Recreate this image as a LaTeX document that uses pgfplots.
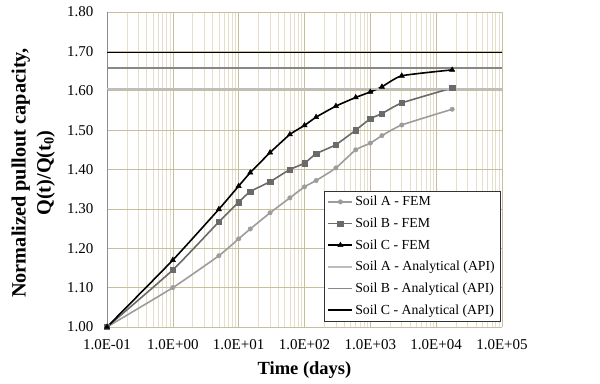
\documentclass[border=0pt]{standalone}
\usepackage{pgfplots}
\pgfplotsset{compat=1.18}
\usepackage{fontspec}
\setmainfont{Liberation Serif}
\definecolor{gridmaj}{HTML}{C6BE9C}
\definecolor{gridmin}{HTML}{E4DECA}
\definecolor{soilA}{HTML}{9C9C9C}
\definecolor{soilB}{HTML}{6A6A6A}
\definecolor{soilAan}{HTML}{BDBDBD}
\definecolor{soilBan}{HTML}{878787}
\definecolor{yaxis}{HTML}{8C8C8C}
\begin{document}
\begin{tikzpicture}
\begin{axis}[
  scale only axis, width=395pt, height=315pt,
  xmode=log, xmin=0.1, xmax=1e5, ymin=1.0, ymax=1.8,
  xtick={0.1,1,10,100,1000,10000,100000},
  xticklabels={1.0E-01,1.0E+00,1.0E+01,1.0E+02,1.0E+03,1.0E+04,1.0E+05},
  ytick={1.0,1.1,1.2,1.3,1.4,1.5,1.6,1.7,1.8},
  yticklabel style={/pgf/number format/fixed, /pgf/number format/fixed zerofill, /pgf/number format/precision=2, /pgf/number format/assume math mode=true, xshift=-10pt},
  grid=both,
  major grid style={draw=gridmaj, line width=0.6pt},
  minor grid style={draw=gridmin, line width=0.5pt},
  major tick length=0pt, minor tick length=0pt,
  axis x line*=bottom, axis y line*=left,
  x axis line style={draw=gridmaj, -},
  y axis line style={draw=yaxis, line width=0.8pt, -},
  tick label style={font=\fontsize{15}{17}\selectfont},
  xticklabel style={yshift=-9pt},
  xlabel={Time (days)},
  ylabel={Normalized pullout capacity,\\Q(t)/Q(t\textsubscript{0})},
  xlabel style={font=\fontsize{18.5}{22}\selectfont\bfseries, at={(axis description cs:0.5,-0.137)}, anchor=center},
  ylabel style={font=\fontsize{20.3}{25}\selectfont\bfseries, at={(axis description cs:-0.187,0.489)}, anchor=center, align=center},
  legend style={at={(rel axis cs:0.995,0.019)}, anchor=south east, draw=black!80, fill=white,
    font=\fontsize{13.8}{15}\selectfont, row sep=6.6pt, inner sep=3pt},
  legend cell align=left,
  legend image code/.code={\draw[mark repeat=2,mark phase=2,#1] plot coordinates {(0pt,0pt) (12pt,0pt) (24pt,0pt)};},
]
\addplot[soilA, line width=1.6pt, smooth, tension=0.3, mark=*, mark size=2.2pt, mark options={fill=soilA, draw=soilA, line width=0.5pt}] coordinates {
(0.1,1.0)(1,1.100)(5,1.181)(10,1.224)(15,1.249)(30,1.290)(60,1.328)(100,1.356)(150,1.372)(300,1.404)(600,1.450)(1000,1.467)(1500,1.486)(3000,1.513)(17500,1.553)};
\addlegendentry{Soil A - FEM}
\addplot[soilB, line width=1.6pt, smooth, tension=0.3, mark=square*, mark size=2.7pt, mark options={fill=soilB, draw=soilB, line width=0.5pt}] coordinates {
(0.1,1.0)(1,1.145)(5,1.267)(10,1.317)(15,1.344)(30,1.369)(60,1.400)(100,1.416)(150,1.440)(300,1.463)(600,1.500)(1000,1.529)(1500,1.542)(3000,1.569)(17500,1.607)};
\addlegendentry{Soil B - FEM}
\addplot[black, line width=1.6pt, smooth, tension=0.3, mark=triangle*, mark size=3pt, mark options={fill=black, draw=black, line width=0.5pt}] coordinates {
(0.1,1.0)(1,1.170)(5,1.299)(10,1.358)(15,1.392)(30,1.443)(60,1.489)(100,1.512)(150,1.533)(300,1.561)(600,1.583)(1000,1.597)(1500,1.610)(3000,1.638)(17500,1.653)};
\addlegendentry{Soil C - FEM}
\addplot[soilAan, line width=1.8pt] coordinates {(0.1,1.605)(100000,1.605)};
\addlegendentry{Soil A - Analytical (API)}
\addplot[soilBan, line width=1.8pt] coordinates {(0.1,1.658)(100000,1.658)};
\addlegendentry{Soil B - Analytical (API)}
\addplot[black, line width=1.8pt] coordinates {(0.1,1.697)(100000,1.697)};
\addlegendentry{Soil C - Analytical (API)}
\end{axis}
\pgfresetboundingbox
\path ([shift={(-107pt,-57pt)}]current axis.south west) rectangle ([shift={(98pt,12pt)}]current axis.north east);
\end{tikzpicture}
\end{document}
